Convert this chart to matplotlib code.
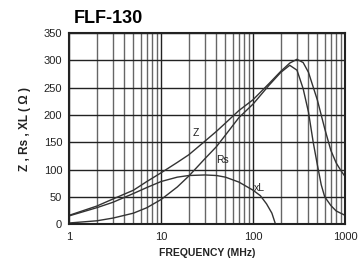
import matplotlib
matplotlib.use("Agg")
import matplotlib.pyplot as plt
from matplotlib.ticker import LogLocator, NullFormatter

plt.rcParams['font.family'] = ['Liberation Sans', 'DejaVu Sans']

title = "FLF-130"
x_label = "FREQUENCY (MHz)"
y_label = "Z , Rs , XL ( Ω )"

freq_z = [1, 2, 3, 5, 7, 10, 15, 20, 30, 40, 50, 70, 100, 150, 200, 250, 300, 350, 400, 500, 600, 700, 800, 900, 1000]
z_vals = [16, 33, 46, 62, 78, 94, 113, 127, 152, 170, 185, 208, 228, 258, 280, 295, 302, 296, 278, 227, 175, 135, 112, 98, 87]

freq_rs = [1, 2, 3, 5, 7, 10, 15, 20, 30, 40, 50, 70, 100, 150, 200, 250, 300, 350, 400, 450, 500, 550, 600, 700, 800, 1000]
rs_vals = [2, 6, 11, 20, 30, 45, 68, 88, 120, 142, 163, 195, 220, 255, 278, 291, 282, 248, 205, 150, 108, 72, 50, 34, 24, 16]

freq_xl = [1, 2, 3, 5, 7, 10, 15, 20, 30, 40, 50, 70, 100, 120, 140, 160, 175]
xl_vals = [15, 30, 40, 56, 67, 78, 86, 89, 90, 89, 86, 77, 62, 52, 37, 20, 0]

y_ticks = [0, 50, 100, 150, 200, 250, 300, 350]
x_ticks = [1, 10, 100, 1000]
x_tick_labels = ["1", "10", "100", "1000"]

fig = plt.figure(figsize=(3.58, 2.69), dpi=100)
ax = fig.add_axes([0.193, 0.167, 0.771, 0.71])
ax.set_xscale('log')
ax.set_xlim(1, 1000)
ax.set_ylim(0, 350)

ax.set_yticks(y_ticks)
ax.set_xticks(x_ticks)
ax.set_xticklabels(x_tick_labels)
ax.xaxis.set_minor_locator(LogLocator(base=10, subs=range(2, 10)))
ax.xaxis.set_minor_formatter(NullFormatter())
ax.grid(which='major', color='#222222', linewidth=1.0)
ax.grid(which='minor', axis='x', color='#666666', linewidth=1.0)
ax.set_axisbelow(True)
ax.tick_params(which='both', length=0, labelsize=8, colors='#222222')
ax.tick_params(axis='x', pad=6)
ax.tick_params(axis='y', pad=5)

for s in ax.spines.values():
    s.set_linewidth(1.5)
    s.set_color('#222222')

lc = '#333333'
ax.plot(freq_z, z_vals, color=lc, lw=1.0)
ax.plot(freq_rs, rs_vals, color=lc, lw=1.0)
ax.plot(freq_xl, xl_vals, color=lc, lw=1.0)

ax.text(24, 167, "Z", fontsize=7.5, ha='center', va='center', color='#222222')
ax.text(46, 117, "Rs", fontsize=7.5, ha='center', va='center', color='#222222')
ax.text(118, 66, "xL", fontsize=7.5, ha='center', va='center', color='#222222')

ax.set_xlabel(x_label, fontsize=7.5, fontweight='bold', labelpad=4, color='#222222')
ax.set_ylabel(y_label, fontsize=8.5, fontweight='bold', labelpad=9, color='#222222')
fig.text(0.205, 0.933, title, fontsize=13, fontweight='bold', ha='left', va='center')

fig.savefig("out.png", dpi=100)
